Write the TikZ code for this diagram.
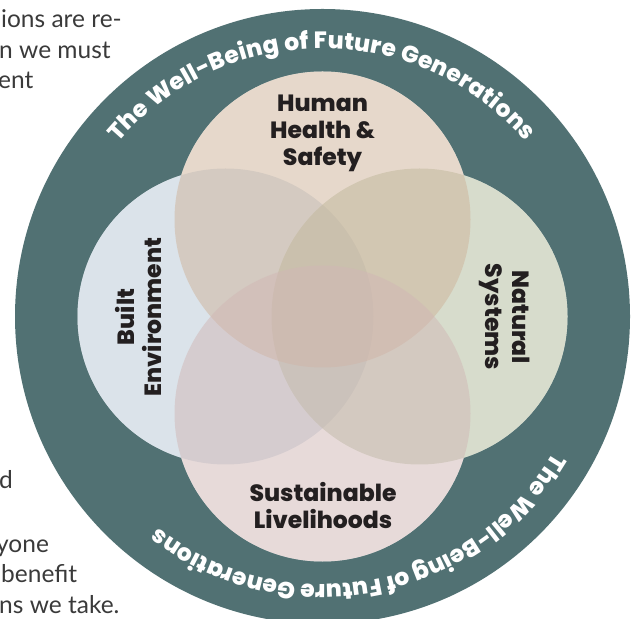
\documentclass[tikz,border=0pt]{standalone}
\usepackage{fontspec}
\setmainfont{Poppins}
\newfontfamily\heavy{Poppins}[UprightFont=* ExtraBold]
\newfontfamily\bodyfont{Lato}
\usetikzlibrary{decorations.text}
\definecolor{ring}{HTML}{517173}
\definecolor{cTop}{HTML}{CFB399}
\definecolor{cLeft}{HTML}{B9C9D7}
\definecolor{cRight}{HTML}{B1BB9B}
\definecolor{cBot}{HTML}{D1B7B5}
\definecolor{ink}{HTML}{231F20}
\definecolor{body}{HTML}{3A3A3A}
\tikzset{
  venn/.style={fill opacity=0.5},
  label/.style={text=ink, font=\heavy\fontsize{23.5}{27}\selectfont, align=center, inner sep=0pt},
  bodyline/.style={text=body, font=\bodyfont\fontsize{24.5}{24.5}\selectfont, anchor=base west, inner sep=0pt},
  ringtext/.style={decorate, decoration={text along path, text align=fit to path, text color=white,
     text={|\heavy\fontsize{23.5}{23.5}\selectfont|The Well-Being of Future Generations}}}
}
\begin{document}
\begin{tikzpicture}[x=1pt,y=1pt]
\useasboundingbox (0,0) rectangle (636,618);
\clip (0,0) rectangle (636,618);
% background page text
\node[bodyline] (t1) at (1,590) {ions are re-};
\node[bodyline] (t2) at (-1,559.5) {n we must};
\node[bodyline] (t3) at (-2,529) {ent};
\node[bodyline] (t4) at (-1,130) {d};
\node[bodyline] (t5) at (-4,66) {yone};
\node[bodyline] (t6) at (1,35.5) {benefit};
\node[bodyline] (t7) at (-1,5) {ns we take.};
% outer ring
\coordinate (C) at (322.5,301.5);
\fill[ring] (C) circle[radius=307.5];
% circle centres
\coordinate (cT) at (322.5,398.5);
\coordinate (cB) at (322.5,204.5);
\coordinate (cL) at (225.5,301.5);
\coordinate (cR) at (419.5,301.5);
\foreach \p in {cT,cB,cL,cR} \fill[white] (\p) circle[radius=148];
\fill[cLeft,venn] (cL) circle[radius=148];
\fill[cRight,venn] (cR) circle[radius=148];
\fill[cTop,venn] (cT) circle[radius=148];
\fill[cBot,venn] (cB) circle[radius=148];
% labels
\node[label] (hh) at (322.5,485) {Human\\Health \&\\Safety};
\node[label] (sl) at (323,112) {Sustainable\\Livelihoods};
\node[label, rotate=90] (be) at (138.5,301) {Built\\Environment};
\node[label, rotate=-90] (ns) at (505,301) {Natural\\Systems};
% ring text
\path[ringtext] ([shift={(139.6:268)}]C) arc[start angle=139.6, end angle=40.7, radius=268];
\path[ringtext] ([shift={(-30.6:268)}]C) arc[start angle=-30.6, end angle=-127.2, radius=268];
\end{tikzpicture}
\end{document}
